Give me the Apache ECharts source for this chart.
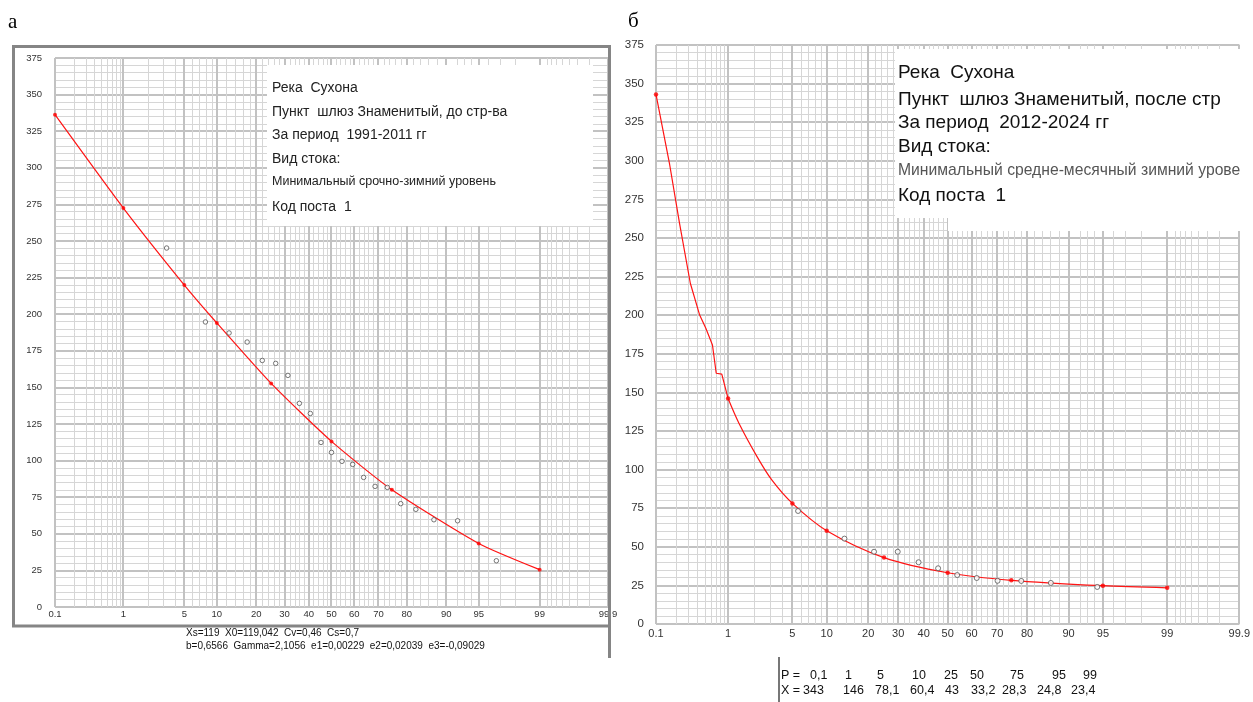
<!DOCTYPE html>
<html><head><meta charset="utf-8">
<script src="https://cdn.jsdelivr.net/npm/echarts@6/dist/echarts.min.js"></script>
<style>html,body{margin:0;padding:0;background:#fff}#c{width:1253px;height:702px}</style>
</head><body><div id="c"></div>
<script>
// ---------- data ----------
const xLabelP = [0.1, 1, 5, 10, 20, 30, 40, 50, 60, 70, 80, 90, 95, 99, 99.9];
const xLabelText = ['0.1','1','5','10','20','30','40','50','60','70','80','90','95','99','99.9'];
const fitP = [0.1, 1, 5, 10, 25, 50, 75, 95, 99];
const leftFitX = [336.3, 272.5, 219.9, 194.0, 152.7, 113.1, 80.1, 43.4, 25.5];
const leftObsP = [3.27, 7.94, 12.62, 17.29, 21.96, 26.64, 31.31, 35.98, 40.65, 45.33, 50.00, 54.67, 59.35, 64.02, 68.69, 73.36, 78.04, 82.71, 87.38, 92.06, 96.73];
const leftObsX = [245.2, 194.7, 187.2, 181.0, 168.4, 166.4, 158.2, 139.1, 132.2, 112.4, 105.6, 99.5, 97.4, 88.5, 82.4, 81.7, 70.6, 66.7, 59.6, 58.9, 31.6];
const rightFitX = [343, 146, 78.1, 60.4, 43, 33.2, 28.3, 24.8, 23.4];
const rightHeadP = [0.1, 0.16, 0.225, 0.32, 0.43, 0.52, 0.635, 0.71, 0.835, 1];
const rightHeadX = [343, 298.4, 259.5, 220.7, 200.1, 191.5, 180.7, 162.4, 161.8, 146];
const rightTailP = [1, 1.35, 2.17, 3.12, 5, 10, 25, 50, 75, 95, 99];
const rightTailX = [146, 130.0, 108.4, 93.3, 78.1, 60.4, 43, 33.2, 28.3, 24.8, 23.4];
const rightObsP = [5.65, 13.71, 21.77, 29.84, 37.90, 45.97, 54.03, 62.10, 70.16, 78.23, 86.29, 94.35];
const rightObsX = [73.2, 55.3, 46.8, 46.8, 40.0, 36.1, 31.7, 29.8, 28.0, 27.9, 26.6, 24.0];
const yMin = 0, yMax = 375, yStep = 25;

const leftInfo = ['Река  Сухона', 'Пункт  шлюз Знаменитый, до стр-ва', 'За период  1991-2011 гг', 'Вид стока:', 'Минимальный срочно-зимний уровень', 'Код поста  1'];
const rightInfo = ['Река  Сухона', 'Пункт  шлюз Знаменитый, после стр', 'За период  2012-2024 гг', 'Вид стока:', 'Минимальный средне-месячный зимний урове', 'Код поста  1'];
const leftStats = ['Xs=119  X0=119,042  Cv=0,46  Cs=0,7', 'b=0,6566  Gamma=2,1056  e1=0,00229  e2=0,02039  e3=-0,09029'];

// ---------- probability scale ----------
function norminv(p){
  const a=[-3.969683028665376e+01,2.209460984245205e+02,-2.759285104469687e+02,1.383577518672690e+02,-3.066479806614716e+01,2.506628277459239e+00];
  const b=[-5.447609879822406e+01,1.615858368580409e+02,-1.556989798598866e+02,6.680131188771972e+01,-1.328068155288572e+01];
  const c=[-7.784894002430293e-03,-3.223964580411365e-01,-2.400758277161838e+00,-2.549732539343734e+00,4.374664141464968e+00,2.938163982698783e+00];
  const d=[7.784695709041462e-03,3.224671290700398e-01,2.445134137142996e+00,3.754408661907416e+00];
  const pl=0.02425, ph=1-pl; let q, r;
  if(p<pl){q=Math.sqrt(-2*Math.log(p));return (((((c[0]*q+c[1])*q+c[2])*q+c[3])*q+c[4])*q+c[5])/((((d[0]*q+d[1])*q+d[2])*q+d[3])*q+1);}
  if(p<=ph){q=p-0.5;r=q*q;return (((((a[0]*r+a[1])*r+a[2])*r+a[3])*r+a[4])*r+a[5])*q/(((((b[0]*r+b[1])*r+b[2])*r+b[3])*r+b[4])*r+1);}
  q=Math.sqrt(-2*Math.log(1-p));return -(((((c[0]*q+c[1])*q+c[2])*q+c[3])*q+c[4])*q+c[5])/((((d[0]*q+d[1])*q+d[2])*q+d[3])*q+1);
}
const toZ = p => norminv(p/100);
const zMin = toZ(0.1), zMax = toZ(99.9);

// grid line positions (paper layout)
const gridLines = [];
xLabelP.forEach(p => gridLines.push([toZ(p), 1]));
const minorP = [];
for (let i=2;i<=9;i++){ minorP.push(i/10); minorP.push(i); minorP.push(90+i); minorP.push(99+i/10); }
for (let i=12;i<=88;i+=2){ if (i%10!==0) minorP.push(i); }
minorP.filter(p => xLabelP.indexOf(p) < 0).forEach(p => gridLines.push([toZ(p), 0]));

const pts = (P, X) => P.map((p,i) => [toZ(p), X[i]]);

function vGrid(idx){
  return {type:'custom', xAxisIndex:idx, yAxisIndex:idx, silent:true, z:1, clip:false, data:gridLines,
    renderItem(params, api){
      const x = api.value(0), major = api.value(1) === 1;
      const p1 = api.coord([x, yMax]), p2 = api.coord([x, yMin]);
      let px = Math.round(p1[0]); if(!major) px += 0.5;
      return {type:'line', shape:{x1:px, y1:p1[1], x2:px, y2:p2[1]},
        style:{stroke: major ? '#c2c2c2' : '#d6d6d6', lineWidth: major ? 2 : 1}};
    }};
}
function xAxis(idx, fs, margin){
  return {type:'value', gridIndex:idx, min:zMin, max:zMax,
    axisLine:{show:false}, axisTick:{show:false}, splitLine:{show:false},
    axisLabel:{customValues: xLabelP.map(toZ), fontSize:fs, color:'#333', margin:margin, fontFamily:'Liberation Sans',
      formatter: v => { for (let i=0;i<xLabelP.length;i++){ if (Math.abs(toZ(xLabelP[i])-v) < 1e-6) return xLabelText[i]; } return ''; }}};
}
function yAxis(idx, fs, margin, pad){
  return {type:'value', gridIndex:idx, min:yMin, max:yMax, interval:yStep,
    axisLine:{show:false}, axisTick:{show:false},
    axisLabel:{fontSize:fs, color:'#333', margin:margin, fontFamily:'Liberation Sans', padding:[pad,0,0,0]},
    splitLine:{show:true, lineStyle:{color:'#c2c2c2', width:2}},
    minorTick:{show:false, splitNumber:5},
    minorSplitLine:{show:true, lineStyle:{color:'#d6d6d6', width:1}}};
}

const graphic = [];
function txt(x, y, text, size, color, family){
  graphic.push({type:'text', x:x, y:y, z:101, silent:true,
    style:{text:text, font: size + 'px ' + (family || '"Liberation Sans", Arial, sans-serif'), fill:color || '#1a1a1a',
      verticalAlign:'middle', textVerticalAlign:'middle'}});
}
function rect(x, y, w, h, fill){
  graphic.push({type:'rect', z:100, silent:true, shape:{x:x, y:y, width:w, height:h}, style:{fill:fill, stroke:null}});
}
// left info box
rect(267, 65, 326, 161, '#fff');
const leftY = [88, 112, 135, 159, 182, 207];
leftInfo.forEach((t,i) => txt(272, leftY[i], t, i===4 ? 12.5 : 14, '#222'));
// right info box
rect(895, 49, 351, 169, '#fff');
rect(948, 217, 298, 14, '#fff');
const rightY = [73, 100, 123, 147, 171, 196];
rightInfo.forEach((t,i) => txt(898, rightY[i], t, i===4 ? 15.7 : 19, i===4 ? '#555' : '#111'));
// left frame
graphic.push({type:'rect', z:102, silent:true, shape:{x:13.5, y:46.5, width:596, height:579.5}, style:{fill:null, stroke:'#858585', lineWidth:3}});
graphic.push({type:'line', z:102, silent:true, shape:{x1:609.5, y1:626, x2:609.5, y2:658}, style:{stroke:'#858585', lineWidth:3}});
// stats
txt(186, 633, leftStats[0], 10, '#111');
txt(186, 646, leftStats[1], 10, '#111');
// table
graphic.push({type:'line', z:102, silent:true, shape:{x1:779, y1:657, x2:779, y2:702}, style:{stroke:'#777', lineWidth:2}});
const colPx = [810, 845, 877, 912, 944, 970, 1010, 1052, 1083];
const colXx = [803, 843, 875, 910, 945, 971, 1002, 1037, 1071];
txt(781, 676, 'P =', 12.5, '#111');
txt(781, 690.5, 'X =', 12.5, '#111');
fitP.forEach((p,i) => txt(colPx[i], 676, String(p).replace('.', ','), 12.5, '#111'));
rightFitX.forEach((v,i) => txt(colXx[i], 690.5, String(v).replace('.', ','), 12.5, '#111'));
// panel letters
txt(8, 22, 'а', 21, '#000', '"Liberation Serif", "DejaVu Serif", serif');
txt(628, 21, 'б', 21, '#000', '"Liberation Serif", "DejaVu Serif", serif');

const red = '#ff1414';
const option = {
  animation:false, backgroundColor:'#fff',
  grid:[
    {left:55, top:58, width:553, height:549, show:true, borderColor:'#c4c4c4', borderWidth:1, backgroundColor:'#fff'},
    {left:656, top:45, width:590, height:579, show:true, borderColor:'#c4c4c4', borderWidth:1, backgroundColor:'#fff'}
  ],
  xAxis:[xAxis(0, 9.5, 2), xAxis(1, 11, 4)],
  yAxis:[yAxis(0, 9.5, 13, 5), yAxis(1, 11.5, 12, 7)],
  series:[
    vGrid(0), vGrid(1),
    {type:'line', xAxisIndex:0, yAxisIndex:0, data:pts(fitP, leftFitX), smooth:0.2, showSymbol:false, z:3,
      lineStyle:{color:red, width:1.2}},
    {type:'scatter', xAxisIndex:0, yAxisIndex:0, data:pts(fitP, leftFitX), symbol:'circle', symbolSize:4, z:4, itemStyle:{color:'#ff0000'}},
    {type:'scatter', xAxisIndex:0, yAxisIndex:0, data:pts(leftObsP, leftObsX), symbol:'circle', symbolSize:4.5, z:5,
      itemStyle:{color:'#fff', borderColor:'#555', borderWidth:1}},
    {type:'line', xAxisIndex:1, yAxisIndex:1, data:pts(rightHeadP, rightHeadX), smooth:false, showSymbol:false, z:3,
      lineStyle:{color:red, width:1.2}},
    {type:'line', xAxisIndex:1, yAxisIndex:1, data:pts(rightTailP, rightTailX), smooth:0.3, showSymbol:false, z:3,
      lineStyle:{color:red, width:1.2}},
    {type:'scatter', xAxisIndex:1, yAxisIndex:1, data:pts(fitP, rightFitX), symbol:'circle', symbolSize:4.5, z:4, itemStyle:{color:'#ff0000'}},
    {type:'scatter', xAxisIndex:1, yAxisIndex:1, data:pts(rightObsP, rightObsX), symbol:'circle', symbolSize:5, z:5,
      itemStyle:{color:'#fff', borderColor:'#555', borderWidth:1}}
  ],
  graphic: graphic
};
const chart = echarts.init(document.getElementById('c'), null, {renderer:'canvas'});
chart.setOption(option);
</script>
</body></html>
